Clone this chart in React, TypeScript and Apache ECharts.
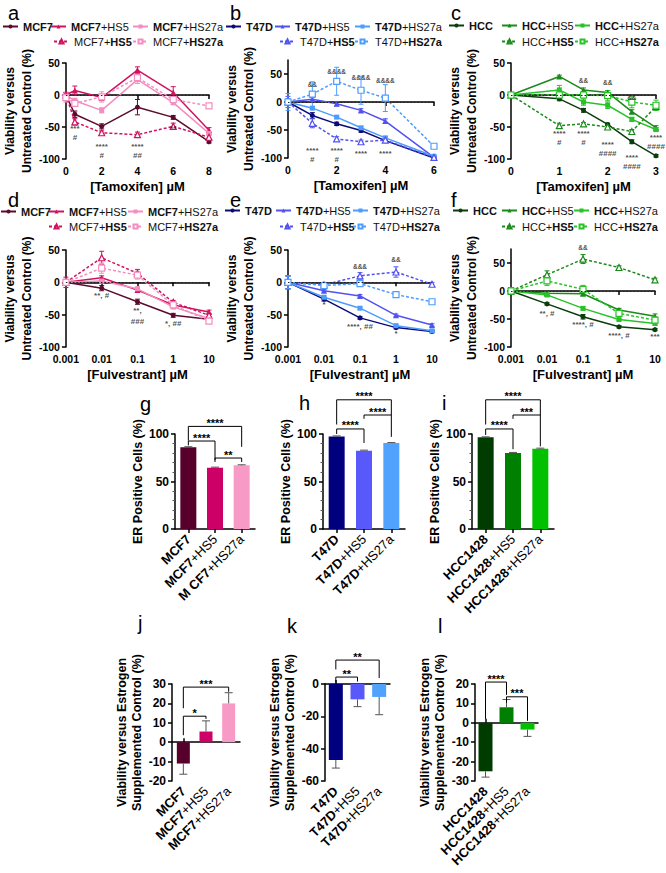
import { useEffect, useRef } from 'react';
import * as echarts from 'echarts';

const FONT = '"Liberation Sans", Arial, Helvetica, sans-serif';

// ---------- x values ----------
const tamX_MCF7 = [0, 0.5, 2, 4, 6, 8];
const tamX_T47D = [0, 1, 2, 3, 4, 6];
const tamX_HCC = [0, 1, 1.5, 2, 2.5, 3];
const fulX = [0.001, 0.01, 0.1, 1, 10];

// ---------- panel a: MCF7 + tamoxifen ----------
const a_MCF7 = [0, -30, -49, -19, -35, -73];
const a_MCF7_HS5 = [0, 7, -4, 39, 4, -55];
const a_MCF7_HS27a = [0, -9, -24, 24, -12, -60];
const a_MCF7_HS5_alt = [0, -42, -59, -62, -49, -66];
const a_MCF7_HS27a_alt = [-4, -13, -3, 27, -7, -17];
const a_err = [
  [4, 5, 4, 12, 3, 2],
  [4, 7, 4, 5, 9, 4],
  [4, 4, 4, 6, 3, 3],
  [4, 5, 3, 4, 5, 4],
  [7, 4, 8, 5, 4, 3],
];
const a_notes: [number, number, string][] = [
  [0.5, -52, '***'], [0.5, -66, '#'], [2, -80, '****'], [2, -94, '#'],
  [4, -80, '****'], [4, -94, '##'], [6, -52, '**'],
];

// ---------- panel b: T47D + tamoxifen ----------
const b_T47D = [0, -24, -39, -51, -69, -100];
const b_T47D_HS5 = [0, 5, -3, -15, -34, -99];
const b_T47D_HS27a = [0, -11, -27, -46, -64, -97];
const b_T47D_HS5_alt = [0, -38, -66, -71, -68, -99];
const b_T47D_HS27a_alt = [0, 14, 37, 21, 7, -79];
const b_err = [
  [5, 5, 3, 3, 3, 2],
  [5, 3, 4, 3, 4, 2],
  [5, 2, 2, 2, 2, 2],
  [10, 8, 4, 3, 3, 2],
  [15, 22, 25, 25, 24, 3],
];
const b_notes: [number, number, string][] = [
  [1, 32, '&&'], [2, 55, '&&&&'], [3, 43, '&&&&'], [4, 39, '&&&&'],
  [1, -86, '****'], [1, -102, '#'], [2, -86, '****'], [2, -102, '#'],
  [3, -92, '****'], [4, -92, '****'],
];

// ---------- panel c: HCC + tamoxifen ----------
const c_HCC = [0, -6, -24, -46, -73, -95];
const c_HCC_HS5 = [0, 29, 8, 4, -26, -51];
const c_HCC_HS27a = [0, 8, -11, -16, -38, -54];
const c_HCC_HS5_alt = [0, -48, -45, -50, -57, -18];
const c_HCC_HS27a_alt = [0, 0, 0, -1, -11, -16];
const c_err = [
  [4, 3, 3, 2, 3, 2],
  [4, 2, 3, 3, 3, 3],
  [4, 7, 5, 5, 3, 3],
  [4, 4, 2, 3, 3, 6],
  [4, 6, 4, 8, 9, 8],
];
const c_notes: [number, number, string][] = [
  [1.5, 22, '&&'], [2, 20, '&&'], [2.5, -4, '&&'],
  [1, -60, '****'], [1, -74, '#'], [1.5, -60, '****'], [1.5, -74, '#'],
  [2, -77, '****'], [2, -91, '####'], [2.5, -97, '****'], [2.5, -111, '####'],
  [3, -66, '****'], [3, -81, '####'],
];

// ---------- panel d: MCF7 + fulvestrant ----------
const d_MCF7 = [0, -9, -30, -51, -57];
const d_MCF7_HS5 = [0, 7, -12, -35, -46];
const d_MCF7_HS27a = [0, 2, -10, -38, -56];
const d_MCF7_HS5_alt = [0, 38, 14, -31, -51];
const d_MCF7_HS27a_alt = [0, 22, 11, -35, -60];
const d_err = [
  [2, 4, 4, 3, 3],
  [3, 3, 3, 3, 3],
  [3, 3, 3, 3, 3],
  [8, 10, 6, 3, 3],
  [5, 8, 6, 3, 3],
];
const d_notes: [number, number, string][] = [
  [0.01, -21, '**, #'], [0.1, -43, '**,'], [0.1, -61, '###'], [1, -63, '*, ##'],
];

// ---------- panel e: T47D + fulvestrant ----------
const e_T47D = [0, -26, -55, -70, -76];
const e_T47D_HS5 = [0, -13, -21, -51, -66];
const e_T47D_HS27a = [0, -23, -40, -67, -75];
const e_T47D_HS5_alt = [0, -4, 10, 16, -3];
const e_T47D_HS27a_alt = [0, -5, -2, -19, -30];
const e_err = [
  [10, 3, 2, 2, 2],
  [10, 2, 2, 2, 2],
  [10, 2, 2, 2, 2],
  [10, 3, 5, 8, 3],
  [10, 5, 2, 2, 2],
];
const e_notes: [number, number, string][] = [
  [0.01, -34, '*'], [0.1, 25, '&&&'], [1, 35, '&&'], [0.1, -69, '****, ##'], [1, -79, '*'],
];

// ---------- panel f: HCC + fulvestrant ----------
const f_HCC = [0, -23, -46, -64, -69];
const f_HCC_HS5 = [0, -4, -5, -34, -45];
const f_HCC_HS27a = [0, -7, -31, -51, -58];
const f_HCC_HS5_alt = [0, 29, 57, 42, 20];
const f_HCC_HS27a_alt = [0, 18, 3, -40, -52];
const f_err = [
  [6, 2, 4, 2, 2],
  [6, 3, 3, 3, 4],
  [6, 3, 3, 2, 3],
  [6, 7, 8, 3, 3],
  [6, 8, 7, 5, 5],
];
const f_notes: [number, number, string][] = [
  [0.1, 77, '&&'], [0.01, -40, '**, #'], [0.1, -59, '****, #'], [1, -80, '****, #'], [10, -81, '***'],
];

// ---------- bar panels g, h, i: ER positive cells ----------
const g_cats = ['MCF7', 'MCF7+HS5', 'M CF7+HS27a'];
const g_vals = [86, 64.5, 67];
const g_errEnd = [86.6, 65.1, 67.6];
const h_cats = ['T47D', 'T47D+HS5', 'T47D+HS27a'];
const h_vals = [97.5, 82.5, 90.5];
const h_errEnd = [98, 83, 91];
const i_cats = ['HCC1428', 'HCC1428+HS5', 'HCC1428+HS27a'];
const i_vals = [96.5, 80, 84.5];
const i_errEnd = [97, 80.6, 85.1];

// ---------- bar panels j, k, l: viability vs estrogen control ----------
const j_cats = ['MCF7', 'MCF7+HS5', 'MCF7+HS27a'];
const j_vals = [-11, 5.5, 20];
const j_errEnd = [-16.5, 11, 25.5];
const k_cats = ['T47D', 'T47D+HS5', 'T47D+HS27a'];
const k_vals = [-47, -9.5, -8];
const k_errEnd = [-52, -14, -19];
const l_cats = ['HCC1428', 'HCC1428+HS5', 'HCC1428+HS27a'];
const l_vals = [-25, 8, -3.5];
const l_errEnd = [-28, 12, -7];

// brackets: [cat1, cat2, level, dropLeftTo, dropRightTo]
const g_brackets = [[0, 2, 108, 93, 86.5], [0, 1, 92.6, 88, 72.5], [1, 2, 74.7, 70.5, 70.5]];
const g_bLabels = ['****', '****', '**'];
const h_brackets = [[0, 2, 136, 110, 120], [1, 2, 120, 116, 97], [0, 1, 105.3, 100, 90.5]];
const h_bLabels = ['****', '****', '****'];
const i_brackets = [[0, 2, 136, 110, 120], [1, 2, 120, 116, 87], [0, 1, 105.3, 99, 84]];
const i_bLabels = ['****', '***', '****'];
const j_brackets = [[0, 2, 28.4, 17.5, 26], [0, 1, 13.4, 3.6, 12]];
const j_bLabels = ['***', '*'];
const k_brackets = [[0, 2, 14.8, 9, 3.7], [0, 1, 4.3, 1, 1.5]];
const k_bLabels = ['**', '**'];
const l_brackets = [[0, 1, 21, 2, 14.4], [1, 2, 13.4, 10.3, 1]];
const l_bLabels = ['****', '***'];

// ---------- colours ----------
const MCF7_COL = ['#5c0a2e', '#d0125f', '#f48dc0'];
const T47D_COL = ['#0b0b78', '#5252f2', '#4c9dff'];
const HCC_COL = ['#0b3c0b', '#1a8a1a', '#29c229'];
const MCF7_BAR = ['#56002b', '#cc0066', '#f89ac6'];
const T47D_BAR = ['#00007f', '#5858fb', '#50a2fd'];
const HCC_BAR = ['#003c00', '#008000', '#00c000'];

const linePanels = [
  {
    id: 'a', cell: 'MCF7', colors: MCF7_COL, x: tamX_MCF7, log: false, xMin: 0, xMax: 8, xInterval: 2, yMax: 50,
    values: [a_MCF7, a_MCF7_HS5, a_MCF7_HS27a, a_MCF7_HS5_alt, a_MCF7_HS27a_alt], errors: a_err, notes: a_notes,
    grid: { left: 64, top: 63, width: 145, height: 96 }, xTitle: '[Tamoxifen] µM',
    legX: [22, 70, 152, 73, 152], legY: [28, 43],
  },
  {
    id: 'b', cell: 'T47D', colors: T47D_COL, x: tamX_T47D, log: false, xMin: 0, xMax: 6, xInterval: 2, yMax: 75,
    values: [b_T47D, b_T47D_HS5, b_T47D_HS27a, b_T47D_HS5_alt, b_T47D_HS27a_alt], errors: b_err, notes: b_notes,
    grid: { left: 288, top: 60, width: 146, height: 98 }, xTitle: '[Tamoxifen] µM',
    legX: [245, 294, 374, 299, 374], legY: [28, 43],
  },
  {
    id: 'c', cell: 'HCC', colors: HCC_COL, x: tamX_HCC, log: false, xMin: 0, xMax: 3, xInterval: 1, yMax: 50,
    values: [c_HCC, c_HCC_HS5, c_HCC_HS27a, c_HCC_HS5_alt, c_HCC_HS27a_alt], errors: c_err, notes: c_notes,
    grid: { left: 511, top: 63, width: 145, height: 96 }, xTitle: '[Tamoxifen] µM',
    legX: [468, 521, 594, 521, 594], legY: [27, 43],
  },
  {
    id: 'd', cell: 'MCF7', colors: MCF7_COL, x: fulX, log: true, xMin: 0.001, xMax: 10, xInterval: 0, yMax: 50,
    values: [d_MCF7, d_MCF7_HS5, d_MCF7_HS27a, d_MCF7_HS5_alt, d_MCF7_HS27a_alt], errors: d_err, notes: d_notes,
    grid: { left: 64, top: 250, width: 145, height: 97 }, xTitle: '[Fulvestrant] µM',
    legX: [20, 68, 147, 68, 147], legY: [213, 228],
  },
  {
    id: 'e', cell: 'T47D', colors: T47D_COL, x: fulX, log: true, xMin: 0.001, xMax: 10, xInterval: 0, yMax: 50,
    values: [e_T47D, e_T47D_HS5, e_T47D_HS27a, e_T47D_HS5_alt, e_T47D_HS27a_alt], errors: e_err, notes: e_notes,
    grid: { left: 288, top: 250, width: 144, height: 97 }, xTitle: '[Fulvestrant] µM',
    legX: [244, 295, 372, 299, 372], legY: [212, 228],
  },
  {
    id: 'f', cell: 'HCC', colors: HCC_COL, x: fulX, log: true, xMin: 0.001, xMax: 10, xInterval: 0, yMax: 75,
    values: [f_HCC, f_HCC_HS5, f_HCC_HS27a, f_HCC_HS5_alt, f_HCC_HS27a_alt], errors: f_err, notes: f_notes,
    grid: { left: 511, top: 249, width: 144, height: 98 }, xTitle: '[Fulvestrant] µM',
    legX: [472, 521, 593, 521, 593], legY: [212, 228],
  },
];

const barPanels = [
  { id: 'g', cats: g_cats, vals: g_vals, errEnd: g_errEnd, colors: MCF7_BAR, yMin: 0, yMax: 100, yInt: 50, minor: true,
    grid: { left: 175, top: 434, width: 80, height: 95 }, title: 'ER Positive Cells (%)', nameGap: 27, zeroAxis: false,
    brackets: g_brackets, bLabels: g_bLabels, barWidth: 16 },
  { id: 'h', cats: h_cats, vals: h_vals, errEnd: h_errEnd, colors: T47D_BAR, yMin: 0, yMax: 100, yInt: 50, minor: true,
    grid: { left: 323, top: 434, width: 82, height: 95 }, title: 'ER Positive Cells (%)', nameGap: 27, zeroAxis: false,
    brackets: h_brackets, bLabels: h_bLabels, barWidth: 16 },
  { id: 'i', cats: i_cats, vals: i_vals, errEnd: i_errEnd, colors: HCC_BAR, yMin: 0, yMax: 100, yInt: 50, minor: true,
    grid: { left: 472, top: 434, width: 82, height: 95 }, title: 'ER Positive Cells (%)', nameGap: 27, zeroAxis: false,
    brackets: i_brackets, bLabels: i_bLabels, barWidth: 16 },
  { id: 'j', cats: j_cats, vals: j_vals, errEnd: j_errEnd, colors: MCF7_BAR, yMin: -20, yMax: 30, yInt: 10, minor: false,
    grid: { left: 172, top: 684, width: 68, height: 97 }, title: 'Viability versus Estrogen\nSupplemented Control (%)', nameGap: 15, zeroAxis: true,
    brackets: j_brackets, bLabels: j_bLabels, barWidth: 13 },
  { id: 'k', cats: k_cats, vals: k_vals, errEnd: k_errEnd, colors: T47D_BAR, yMin: -60, yMax: 0, yInt: 20, minor: false,
    grid: { left: 325, top: 684, width: 65, height: 97 }, title: 'Viability versus Estrogen\nSupplemented Control (%)', nameGap: 27, zeroAxis: true,
    brackets: k_brackets, bLabels: k_bLabels, barWidth: 14 },
  { id: 'l', cats: l_cats, vals: l_vals, errEnd: l_errEnd, colors: HCC_BAR, yMin: -30, yMax: 20, yInt: 10, minor: false,
    grid: { left: 475, top: 684, width: 63, height: 97 }, title: 'Viability versus Estrogen\nSupplemented Control (%)', nameGap: 27, zeroAxis: true,
    brackets: l_brackets, bLabels: l_bLabels, barWidth: 14 },
];

const panelLetters: [string, number, number][] = [
  ['a', 8, 13], ['b', 230, 13], ['c', 451, 13],
  ['d', 8, 200], ['e', 230, 200], ['f', 451, 200],
  ['g', 140, 404], ['h', 299, 403], ['i', 442, 403],
  ['j', 138, 623], ['k', 287, 626], ['l', 438, 626],
];

const AXIS_LINE = { show: true, lineStyle: { color: '#000', width: 1.5 } };
const TICK_LABEL = { color: '#000', fontFamily: FONT, fontWeight: 'bold', fontSize: 10.5 };

function makeErr(color: string, cap: number) {
  return (params: any, api: any) => {
    const x = api.value(0);
    const lo = api.coord([x, api.value(1)]);
    const hi = api.coord([x, api.value(2)]);
    const st = { stroke: color, lineWidth: 1 };
    return {
      type: 'group',
      children: [
        { type: 'line', shape: { x1: lo[0], y1: lo[1], x2: hi[0], y2: hi[1] }, style: st },
        { type: 'line', shape: { x1: lo[0] - cap, y1: lo[1], x2: lo[0] + cap, y2: lo[1] }, style: st },
        { type: 'line', shape: { x1: hi[0] - cap, y1: hi[1], x2: hi[0] + cap, y2: hi[1] }, style: st },
      ],
    };
  };
}

function makeBarErr(color: string, cap: number) {
  return (params: any, api: any) => {
    const x = api.value(0);
    const a = api.coord([x, api.value(1)]);
    const b = api.coord([x, api.value(2)]);
    const st = { stroke: color, lineWidth: 1 };
    return {
      type: 'group',
      children: [
        { type: 'line', shape: { x1: a[0], y1: a[1], x2: b[0], y2: b[1] }, style: st },
        { type: 'line', shape: { x1: b[0] - cap, y1: b[1], x2: b[0] + cap, y2: b[1] }, style: st },
      ],
    };
  };
}

function makeBracket(labels: string[], fontSize: number) {
  return (params: any, api: any) => {
    const i1 = api.value(0), i2 = api.value(1), lvl = api.value(2);
    const p1 = api.coord([i1, lvl]);
    const p2 = api.coord([i2, lvl]);
    const d1 = api.coord([i1, api.value(3)]);
    const d2 = api.coord([i2, api.value(4)]);
    return {
      type: 'group',
      children: [
        {
          type: 'polyline',
          shape: { points: [[p1[0], d1[1]], [p1[0], p1[1]], [p2[0], p2[1]], [p2[0], d2[1]]] },
          style: { stroke: '#000', lineWidth: 1, fill: null },
        },
        {
          type: 'text', x: (p1[0] + p2[0]) / 2, y: p1[1] + 2,
          style: { text: labels[params.dataIndex], align: 'center', verticalAlign: 'bottom', fontSize, fontWeight: 'bold', fontFamily: FONT, fill: '#000' },
        },
      ],
    };
  };
}

const richCat = (s: string) => {
  const k = s.indexOf('+');
  return k < 0 ? `{b|${s}}` : `{b|${s.slice(0, k)}}{n|${s.slice(k)}}`;
};

function buildOption() {
  const grid: any[] = [];
  const xAxis: any[] = [];
  const yAxis: any[] = [];
  const series: any[] = [];
  const legend: any[] = [];
  const richMap: Record<string, string> = {};

  linePanels.forEach((p, pi) => {
    grid.push({ ...p.grid });
    const xi = xAxis.length;
    const yi = yAxis.length;
    const xAx: any = {
      gridIndex: pi, type: p.log ? 'log' : 'value', min: p.xMin, max: p.xMax,
      axisLine: AXIS_LINE, axisTick: { show: true, length: 4, lineStyle: { width: 1.5, color: '#000' } },
      axisLabel: { ...TICK_LABEL, margin: 6, hideOverlap: false },
      splitLine: { show: false }, minorTick: { show: false },
      name: p.xTitle, nameLocation: 'middle', nameGap: 21,
      nameTextStyle: { fontFamily: FONT, fontWeight: 'bold', fontSize: 13, color: '#000' },
    };
    if (p.log) {
      xAx.logBase = 10;
      xAx.axisLabel.formatter = (v: number) => String(Number(v.toPrecision(3)));
    } else {
      xAx.interval = p.xInterval;
    }
    xAxis.push(xAx);
    const yTicks = [-100, -50, 0, 50];
    yAxis.push({
      gridIndex: pi, type: 'value', min: -100, max: p.yMax, interval: 50,
      axisLine: AXIS_LINE,
      axisTick: { show: true, length: 4, lineStyle: { width: 1.5, color: '#000' }, customValues: yTicks },
      axisLabel: { ...TICK_LABEL, margin: 6, customValues: yTicks },
      splitLine: { show: false },
      name: 'Viability versus\nUntreated Control (%)', nameLocation: 'middle', nameGap: 22,
      nameTextStyle: { fontFamily: FONT, fontWeight: 'bold', fontSize: 12, color: '#000', lineHeight: 17 },
    });

    const symbols = ['circle', 'triangle', 'rect', 'triangle', 'rect'];
    const sizes = [5, 6, 5, 6, 6];
    const colorIdx = [0, 1, 2, 1, 2];
    const richTexts = [
      `{b|${p.cell}}`,
      `{b|${p.cell}}{n|+HS5}`,
      `{b|${p.cell}}{n|+HS27a}`,
      `{n|${p.cell}+}{b|HS5}`,
      `{n|${p.cell}+}{b|HS27a}`,
    ];
    const plain = [p.cell, `${p.cell}+HS5`, `${p.cell}+HS27a`, `${p.cell}+HS5`, `${p.cell}+HS27a`];

    p.values.forEach((vals, k) => {
      const color = p.colors[colorIdx[k]];
      const dashed = k >= 3;
      const name = `${plain[k]} (${p.id}${k})`;
      richMap[name] = richTexts[k];
      series.push({
        type: 'custom', name: `err-${p.id}${k}`, xAxisIndex: xi, yAxisIndex: yi,
        data: p.x.map((x, i) => [x, vals[i] - p.errors[k][i], vals[i] + p.errors[k][i]]),
        encode: { x: 0, y: [1, 2] },
        renderItem: makeErr(color, 2.5), silent: true, clip: false, z: 2,
      });
      const s: any = {
        type: 'line', name, xAxisIndex: xi, yAxisIndex: yi,
        data: p.x.map((x, i) => [x, vals[i]]),
        symbol: symbols[k], symbolSize: sizes[k], showSymbol: true,
        lineStyle: { color, width: 1.5, type: dashed ? [3, 2] : 'solid' },
        itemStyle: dashed ? { color: '#ffffff', borderColor: color, borderWidth: 1.2 } : { color },
        emphasis: { disabled: true }, silent: true, z: dashed ? 4 : 3,
      };
      if (k === 0) {
        s.markLine = {
          silent: true, symbol: 'none', label: { show: false },
          lineStyle: { type: [1.5, 2], color: '#222', width: 1 },
          data: [{ yAxis: 0 }],
        };
      }
      series.push(s);

      const row = k < 3 ? 0 : 1;
      legend.push({
        data: [name], left: p.legX[k] - 20, top: p.legY[row] - 7, padding: 0,
        itemWidth: 15, itemHeight: 5, itemGap: 0, selectedMode: false,
        formatter: (n: string) => richMap[n],
        textStyle: {
          fontFamily: FONT, fontSize: 11, color: '#111',
          rich: {
            b: { fontFamily: FONT, fontSize: 11, fontWeight: 'bold', color: '#111' },
            n: { fontFamily: FONT, fontSize: 11, fontWeight: 'normal', color: '#111' },
          },
        },
      });
    });

    series.push({
      type: 'scatter', xAxisIndex: xi, yAxisIndex: yi, silent: true, clip: false, z: 6,
      symbolSize: 0.1, itemStyle: { color: 'transparent' },
      data: p.notes.map((n) => ({
        value: [n[0], n[1]], name: n[2],
        label: { fontSize: n[2].includes('&') ? 6.5 : 8 },
      })),
      label: {
        show: true, position: 'inside', formatter: '{b}',
        fontFamily: FONT, fontWeight: 'bold', color: '#1a1a1a',
      },
    });
  });

  barPanels.forEach((p) => {
    const gi = grid.length;
    grid.push({ ...p.grid });
    const yi = yAxis.length;
    const richStyle = {
      b: { fontFamily: FONT, fontSize: 13, fontWeight: 'bold', color: '#000' },
      n: { fontFamily: FONT, fontSize: 13, fontWeight: 'normal', color: '#000' },
    };
    const xLab = xAxis.length;
    if (!p.zeroAxis) {
      xAxis.push({
        gridIndex: gi, type: 'category', data: p.cats,
        axisLine: AXIS_LINE,
        axisTick: { show: true, alignWithLabel: true, length: 4, lineStyle: { width: 1.5, color: '#000' } },
        axisLabel: { rotate: 45, margin: 8, interval: 0, formatter: richCat, rich: richStyle },
      });
    } else {
      xAxis.push({
        gridIndex: gi, type: 'category', data: p.cats, position: 'bottom',
        axisLine: { show: false, onZero: false },
        axisTick: { show: false },
        axisLabel: { rotate: 45, margin: 8, interval: 0, formatter: richCat, rich: richStyle },
      });
      xAxis.push({
        gridIndex: gi, type: 'category', data: p.cats,
        axisLine: { show: true, onZero: true, lineStyle: { color: '#000', width: 1.5 } },
        axisTick: { show: true, alignWithLabel: true, length: 4, lineStyle: { width: 1.5, color: '#000' } },
        axisLabel: { show: false },
      });
    }
    yAxis.push({
      gridIndex: gi, type: 'value', min: p.yMin, max: p.yMax, interval: p.yInt,
      axisLine: AXIS_LINE,
      axisTick: { show: true, length: 4, lineStyle: { width: 1.5, color: '#000' } },
      minorTick: { show: p.minor, splitNumber: 5, length: 2.5, lineStyle: { color: '#555', width: 1 } },
      axisLabel: { ...TICK_LABEL, fontSize: 12, margin: 6 },
      splitLine: { show: false },
      name: p.title, nameLocation: 'middle', nameGap: p.nameGap,
      nameTextStyle: { fontFamily: FONT, fontWeight: 'bold', fontSize: 12.5, color: '#000', lineHeight: 15 },
    });
    series.push({
      type: 'bar', name: `bar-${p.id}`, xAxisIndex: xLab, yAxisIndex: yi, barWidth: p.barWidth,
      data: p.vals.map((v, i) => ({ value: v, itemStyle: { color: p.colors[i] } })),
      silent: true, emphasis: { disabled: true }, z: 2,
    });
    series.push({
      type: 'custom', name: `barerr-${p.id}`, xAxisIndex: xLab, yAxisIndex: yi,
      data: p.vals.map((v, i) => [i, v, p.errEnd[i]]),
      encode: { x: 0, y: [1, 2] },
      renderItem: makeBarErr('#555', 4), silent: true, clip: false, z: 3,
    });
    series.push({
      type: 'custom', name: `brk-${p.id}`, xAxisIndex: xLab, yAxisIndex: yi,
      data: p.brackets,
      encode: { x: 0, y: 2 },
      renderItem: makeBracket(p.bLabels, 11), silent: true, clip: false, z: 4,
    });
  });

  const graphic = panelLetters.map(([t, x, y]) => ({
    type: 'text', x, y, silent: true,
    style: { text: t, fontFamily: FONT, fontSize: 20, fontWeight: 'normal', fill: '#000', verticalAlign: 'middle', align: 'left' },
  }));

  return {
    animation: false,
    backgroundColor: '#ffffff',
    textStyle: { fontFamily: FONT },
    tooltip: { show: false },
    grid, xAxis, yAxis, series, legend, graphic,
  };
}

export default function App() {
  const ref = useRef<HTMLDivElement>(null);
  useEffect(() => {
    if (!ref.current) return;
    const chart = echarts.init(ref.current, undefined, { renderer: 'svg' });
    chart.setOption(buildOption() as any);
    return () => chart.dispose();
  }, []);
  return (
    <div
      ref={ref}
      style={{ position: 'absolute', left: 0, top: 0, width: 666, height: 873, background: '#fff' }}
    />
  );
}
